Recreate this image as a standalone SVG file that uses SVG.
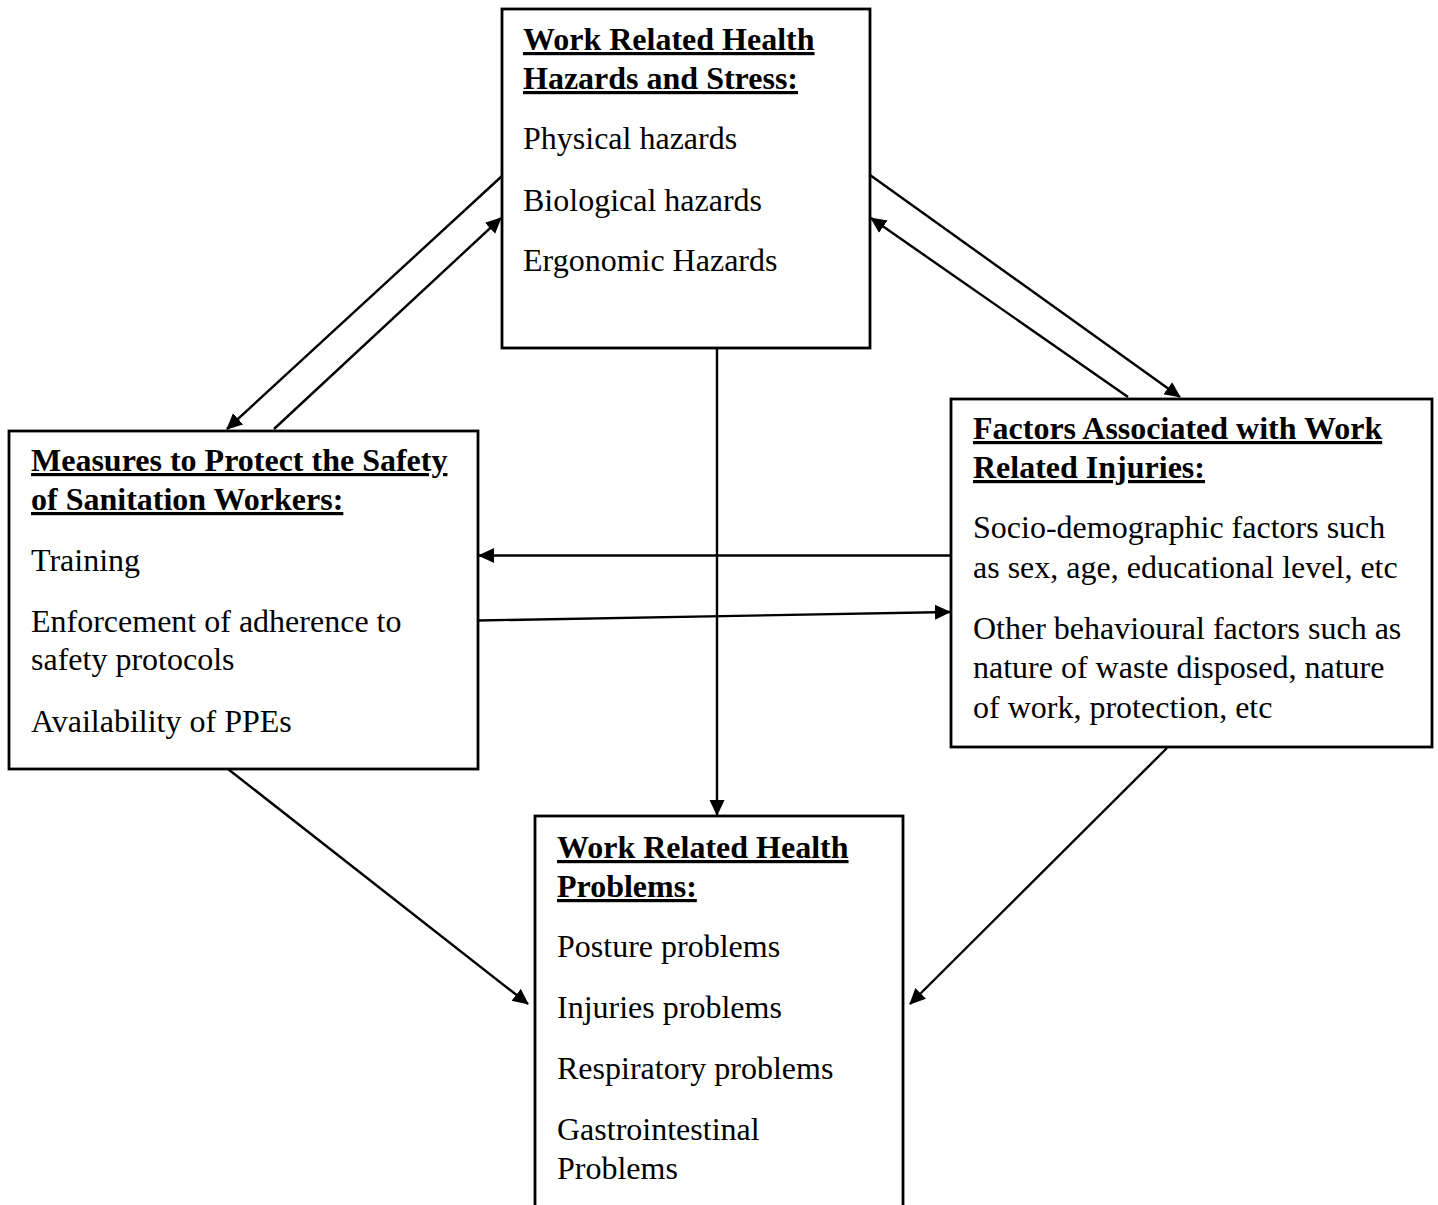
<svg xmlns="http://www.w3.org/2000/svg" width="1438" height="1205" viewBox="0 0 1438 1205">
<style>
.box{fill:#fff;stroke:#000;stroke-width:2.8}
.t{font-family:"Liberation Serif","Times New Roman",serif;font-size:32px;fill:#000}
.h{font-weight:bold;text-decoration:underline}
.c{stroke:#000;stroke-width:2.4;fill:none}
</style>
<defs>
<marker id="ah" markerUnits="userSpaceOnUse" markerWidth="17" markerHeight="17" refX="15" refY="8" orient="auto" viewBox="0 0 17 17">
<path d="M0,0.5 L16,8 L0,15.5 z" fill="#000"/>
</marker>
</defs>
<rect width="1438" height="1205" fill="#fff"/>
<g id="connectors">
<line class="c" x1="717" y1="348" x2="717" y2="815" marker-end="url(#ah)"/>
<line class="c" x1="502" y1="176" x2="227" y2="429" marker-end="url(#ah)"/>
<line class="c" x1="274" y1="429" x2="501" y2="218" marker-end="url(#ah)"/>
<line class="c" x1="870" y1="175" x2="1180" y2="397" marker-end="url(#ah)"/>
<line class="c" x1="1128" y1="397" x2="871" y2="218" marker-end="url(#ah)"/>
<line class="c" x1="951" y1="555.5" x2="479" y2="555.5" marker-end="url(#ah)"/>
<line class="c" x1="478" y1="620.5" x2="950" y2="612" marker-end="url(#ah)"/>
<line class="c" x1="228" y1="769" x2="528" y2="1004" marker-end="url(#ah)"/>
<line class="c" x1="1167" y1="748" x2="910" y2="1004" marker-end="url(#ah)"/>
</g>
<g id="hazards">
<rect class="box" x="502" y="9" width="368" height="339"/>
<text class="t h" x="523" y="50">Work Related Health</text>
<text class="t h" x="523" y="89">Hazards and Stress:</text>
<text class="t" x="523" y="149">Physical hazards</text>
<text class="t" x="523" y="211">Biological hazards</text>
<text class="t" x="523" y="271">Ergonomic Hazards</text>
</g>
<g id="measures">
<rect class="box" x="9" y="431" width="469" height="338"/>
<text class="t h" x="31" y="471">Measures to Protect the Safety</text>
<text class="t h" x="31" y="510">of Sanitation Workers:</text>
<text class="t" x="31" y="571">Training</text>
<text class="t" x="31" y="632">Enforcement of adherence to</text>
<text class="t" x="31" y="670">safety protocols</text>
<text class="t" x="31" y="732">Availability of PPEs</text>
</g>
<g id="factors">
<rect class="box" x="951" y="399" width="481" height="348"/>
<text class="t h" x="973" y="439">Factors Associated with Work</text>
<text class="t h" x="973" y="478">Related Injuries:</text>
<text class="t" x="973" y="538">Socio-demographic factors such</text>
<text class="t" x="973" y="578">as sex, age, educational level, etc</text>
<text class="t" x="973" y="639">Other behavioural factors such as</text>
<text class="t" x="973" y="678">nature of waste disposed, nature</text>
<text class="t" x="973" y="718">of work, protection, etc</text>
</g>
<g id="problems">
<rect class="box" x="535" y="816" width="368" height="420"/>
<text class="t h" x="557" y="858">Work Related Health</text>
<text class="t h" x="557" y="897">Problems:</text>
<text class="t" x="557" y="957">Posture problems</text>
<text class="t" x="557" y="1018">Injuries problems</text>
<text class="t" x="557" y="1079">Respiratory problems</text>
<text class="t" x="557" y="1140">Gastrointestinal</text>
<text class="t" x="557" y="1179">Problems</text>
</g>
</svg>
